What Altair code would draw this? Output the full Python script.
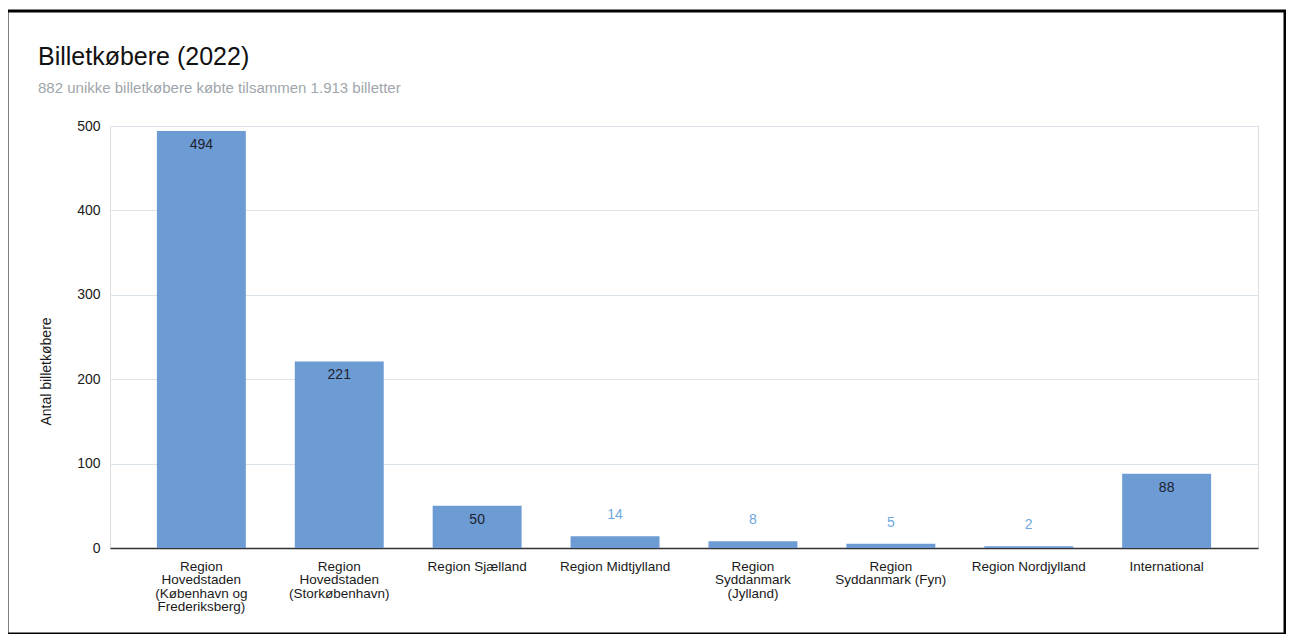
import altair as alt
import pandas as pd

categories = [
    "Region\nHovedstaden\n(København og\nFrederiksberg)",
    "Region\nHovedstaden\n(Storkøbenhavn)",
    "Region Sjælland",
    "Region Midtjylland",
    "Region\nSyddanmark\n(Jylland)",
    "Region\nSyddanmark (Fyn)",
    "Region Nordjylland",
    "International",
]
values = [494, 221, 50, 14, 8, 5, 2, 88]
y_ticks = [0, 100, 200, 300, 400, 500]
title_text = "Billetkøbere (2022)"
subtitle_text = "882 unikke billetkøbere købte tilsammen 1.913 billetter"

df = pd.DataFrame({"region": categories, "antal": values})

FONT = "Liberation Sans"
BAR = "#6d9bd4"

x_enc = alt.X(
    "region:N",
    sort=categories,
    scale=alt.Scale(paddingInner=0.355, paddingOuter=0.34),
    axis=alt.Axis(
        title=None,
        labelAngle=0,
        labelExpr="split(datum.value, '\\n')",
        labelFontSize=13.5,
        labelLineHeight=13.6,
        labelPadding=11,
        labelColor="#1a1a1a",
        labelFont=FONT,
        labelLimit=300,
        ticks=False,
        domainColor="#333",
        domainWidth=1.5,
        grid=False,
    ),
)
y_scale = alt.Scale(domain=[0, 500], nice=False)

base = alt.Chart(df)

bars = base.mark_bar(color=BAR).encode(
    x=x_enc,
    y=alt.Y(
        "antal:Q",
        scale=y_scale,
        axis=alt.Axis(
            title="Antal billetkøbere",
            titleFont=FONT,
            titleFontSize=14,
            titleFontWeight="normal",
            titleColor="#1a1a1a",
            titleX=-57,
            titleY=245,
            values=y_ticks,
            labelFont=FONT,
            labelFontSize=14,
            labelColor="#1a1a1a",
            labelPadding=10,
            ticks=False,
            domain=False,
            gridColor="#dde3ea",
        ),
    ),
)

inside = base.transform_filter("datum.antal >= 30").mark_text(
    font=FONT, fontSize=14, color="#1e2230", baseline="middle", dy=14
).encode(x=alt.X("region:N", sort=categories), y=alt.Y("antal:Q", scale=y_scale), text="antal:Q")

outside = base.transform_filter("datum.antal < 30").mark_text(
    font=FONT, fontSize=14, color="#6fa8e0", baseline="middle", dy=-21
).encode(x=alt.X("region:N", sort=categories), y=alt.Y("antal:Q", scale=y_scale), text="antal:Q")

one = alt.Data(values=[{"f": 1}])

frame = alt.Chart(one).mark_rect(
    filled=False, stroke="#000", strokeWidth=3
).encode(
    x=alt.value(-103), x2=alt.value(1175), y=alt.value(-115), y2=alt.value(508)
)

title = alt.Chart(one).mark_text(
    font=FONT, fontSize=25, color="#111", align="left", baseline="alphabetic"
).encode(x=alt.value(-72), y=alt.value(-61), text=alt.value(title_text))

subtitle = alt.Chart(one).mark_text(
    font=FONT, fontSize=15, color="#a0a6ab", align="left", baseline="alphabetic"
).encode(x=alt.value(-72), y=alt.value(-33), text=alt.value(subtitle_text))

chart = (
    alt.layer(bars, inside, outside, frame, title, subtitle)
    .properties(
        width=1148,
        height=422,
        autosize=alt.AutoSizeParams(type="none"),
        padding={"left": 102, "top": 118, "right": 28, "bottom": 86},
    )
    .configure_view(stroke=None)
    .configure(background="white")
)

chart.save("out.html", embed_options={"renderer": "svg", "actions": False})
